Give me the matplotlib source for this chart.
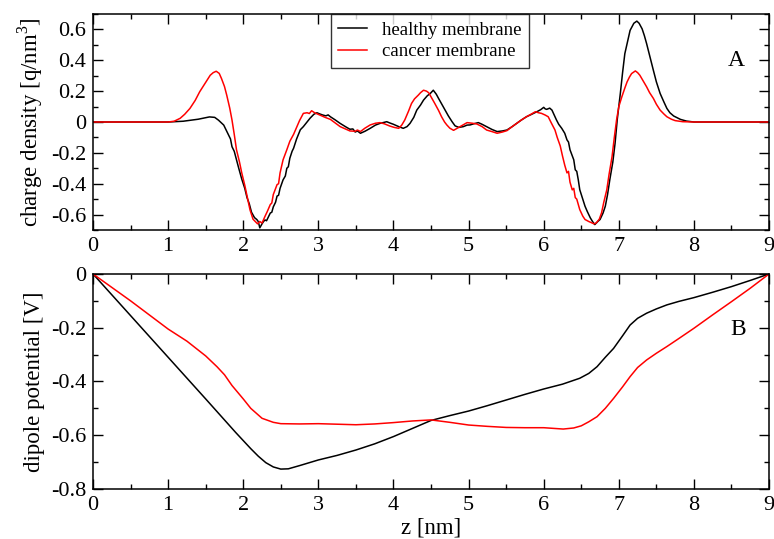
import matplotlib
matplotlib.use("Agg")
import matplotlib.pyplot as plt
from matplotlib.ticker import MultipleLocator, FuncFormatter

plt.rcParams['font.family'] = ['Liberation Serif', 'DejaVu Serif']
plt.rcParams['mathtext.fontset'] = 'custom'
plt.rcParams['mathtext.rm'] = 'Liberation Serif'
plt.rcParams['axes.unicode_minus'] = False

# charge density profiles across the bilayer, z in nm, rho in q/nm^3
z_rho_healthy = [0.0, 1.0, 1.2, 1.4, 1.55, 1.62, 1.67, 1.74, 1.80, 1.83, 1.85, 1.88, 1.91, 1.94, 1.98,
                 2.02, 2.05, 2.08, 2.11, 2.15, 2.18, 2.20, 2.22, 2.25, 2.27, 2.29, 2.31, 2.33,
                 2.36, 2.38, 2.40, 2.43, 2.45, 2.47, 2.49, 2.53, 2.56, 2.58, 2.60, 2.62, 2.65, 2.67, 2.71, 2.76,
                 2.80, 2.85, 2.89, 2.94, 2.98, 3.02, 3.06, 3.10, 3.13, 3.16, 3.22, 3.29, 3.36,
                 3.42, 3.46, 3.49, 3.52, 3.56, 3.62, 3.69, 3.76, 3.82, 3.86, 3.91, 3.95, 4.0, 4.07,
                 4.13, 4.18, 4.22, 4.27, 4.31, 4.36, 4.40, 4.45, 4.49, 4.53, 4.57, 4.60,
                 4.65, 4.69, 4.73, 4.78, 4.82, 4.87, 4.93, 4.98, 5.02, 5.08, 5.13, 5.18,
                 5.24, 5.31, 5.38, 5.45, 5.51, 5.58, 5.64, 5.70, 5.77, 5.84, 5.91, 5.96,
                 6.0, 6.02, 6.04, 6.08, 6.11, 6.14, 6.17, 6.20, 6.24, 6.28, 6.31, 6.33, 6.35,
                 6.38, 6.40, 6.42, 6.44, 6.46, 6.48, 6.52, 6.55, 6.58, 6.62, 6.65, 6.68, 6.70,
                 6.72, 6.75, 6.79, 6.82, 6.85, 6.88, 6.92, 6.95, 6.98, 7.02, 7.05, 7.08,
                 7.12, 7.15, 7.20, 7.24, 7.27, 7.31, 7.34, 7.37, 7.41, 7.46, 7.50, 7.55,
                 7.60, 7.64, 7.68, 7.73, 7.82, 7.90, 8.0, 9.0]
rho_healthy = [0.0, 0.0, 0.005, 0.018, 0.033, 0.03, 0.012, -0.02, -0.08, -0.11, -0.16, -0.19, -0.245, -0.30, -0.37,
               -0.43, -0.49, -0.53, -0.585, -0.62, -0.632, -0.645, -0.686, -0.66, -0.645, -0.635, -0.64, -0.62,
               -0.59, -0.585, -0.55, -0.52, -0.48, -0.475, -0.43, -0.375, -0.35, -0.30, -0.29, -0.235, -0.19, -0.17, -0.11, -0.05,
               -0.03, 0.0, 0.025, 0.05, 0.06, 0.052, 0.045, 0.04, 0.046, 0.034, 0.015, -0.009, -0.03,
               -0.047, -0.045, -0.065, -0.058, -0.073, -0.06, -0.041, -0.02, -0.009, -0.004, 0.002, -0.006, -0.015, -0.03,
               -0.041, -0.03, -0.009, 0.03, 0.077, 0.11, 0.142, 0.17, 0.185, 0.206, 0.18, 0.153,
               0.11, 0.077, 0.04, 0.002, -0.025, -0.035, -0.03, -0.02, -0.019, -0.01, -0.004, -0.015,
               -0.03, -0.048, -0.062, -0.058, -0.052, -0.03, -0.009, 0.012, 0.034, 0.05, 0.067, 0.08,
               0.095, 0.085, 0.082, 0.09, 0.077, 0.045, 0.013, -0.015, -0.041, -0.073, -0.116, -0.13, -0.18,
               -0.22, -0.245, -0.31, -0.32, -0.374, -0.439, -0.50, -0.546, -0.58, -0.621, -0.645, -0.665, -0.655,
               -0.645, -0.632, -0.59, -0.546, -0.47, -0.374, -0.26, -0.138, 0.02, 0.185, 0.32, 0.443,
               0.53, 0.594, 0.64, 0.654, 0.64, 0.604, 0.56, 0.508, 0.43, 0.335, 0.26, 0.185,
               0.13, 0.088, 0.06, 0.039, 0.017, 0.006, 0.0, 0.0]

z_rho_cancer = [0.0, 1.0, 1.08, 1.16, 1.22, 1.29, 1.36, 1.42, 1.49, 1.56, 1.60, 1.64, 1.68,
                1.71, 1.75, 1.78, 1.82, 1.85, 1.88, 1.91, 1.95, 1.98, 2.02, 2.05, 2.09,
                2.13, 2.16, 2.19, 2.22, 2.25, 2.29, 2.32, 2.36, 2.38, 2.40, 2.45, 2.47, 2.49, 2.53,
                2.58, 2.62, 2.67, 2.71, 2.75, 2.80, 2.85, 2.88, 2.91, 2.95, 3.02, 3.09,
                3.16, 3.22, 3.29, 3.36, 3.42, 3.49, 3.52, 3.56, 3.62, 3.69, 3.76, 3.82, 3.88,
                3.95, 4.01, 4.07, 4.11, 4.15, 4.20, 4.24, 4.28, 4.33, 4.36, 4.40, 4.44,
                4.47, 4.51, 4.55, 4.60, 4.64, 4.68, 4.71, 4.75, 4.80, 4.85, 4.89, 4.94,
                4.98, 5.05, 5.11, 5.18, 5.24, 5.31, 5.38, 5.45, 5.51, 5.58, 5.64, 5.70,
                5.77, 5.83, 5.89, 5.93, 5.97, 6.02, 6.06, 6.10, 6.15, 6.18, 6.22, 6.25,
                6.28, 6.31, 6.33, 6.35, 6.38, 6.40, 6.42, 6.44, 6.48, 6.52, 6.55, 6.60, 6.64, 6.67,
                6.70, 6.74, 6.77, 6.80, 6.84, 6.87, 6.91, 6.94, 6.97, 7.00, 7.04, 7.08,
                7.11, 7.14, 7.17, 7.22, 7.25, 7.28, 7.32, 7.37, 7.41, 7.46, 7.50, 7.55,
                7.60, 7.64, 7.70, 7.75, 7.85, 8.0, 9.0]
rho_cancer = [0.0, 0.0, 0.005, 0.024, 0.05, 0.088, 0.14, 0.196, 0.25, 0.303, 0.32, 0.329, 0.315,
              0.282, 0.23, 0.174, 0.09, 0.013, -0.08, -0.18, -0.26, -0.33, -0.41, -0.48, -0.57,
              -0.63, -0.645, -0.66, -0.645, -0.655, -0.611, -0.58, -0.535, -0.525, -0.47, -0.406, -0.40, -0.33, -0.245,
              -0.18, -0.125, -0.08, -0.035, 0.01, 0.056, 0.06, 0.055, 0.073, 0.06, 0.045, 0.03,
              0.017, -0.005, -0.03, -0.045, -0.058, -0.06, -0.052, -0.062, -0.04, -0.019, -0.008, -0.004, -0.012,
              -0.026, -0.035, -0.041, -0.02, 0.013, 0.07, 0.12, 0.15, 0.174, 0.19, 0.206, 0.2,
              0.189, 0.155, 0.12, 0.075, 0.034, 0.0, -0.019, -0.04, -0.054, -0.04, -0.028, -0.015,
              -0.004, -0.008, -0.013, -0.03, -0.052, -0.062, -0.073, -0.065, -0.056, -0.03, -0.009, 0.012,
              0.034, 0.05, 0.067, 0.06, 0.056, 0.045, 0.034, -0.005, -0.052, -0.1, -0.155, -0.22,
              -0.28, -0.33, -0.32, -0.39, -0.44, -0.43, -0.49, -0.5, -0.568, -0.61, -0.632, -0.645, -0.654, -0.66,
              -0.654, -0.63, -0.589, -0.52, -0.439, -0.34, -0.224, -0.1, 0.013, 0.1, 0.163, 0.22,
              0.26, 0.29, 0.314, 0.331, 0.32, 0.303, 0.27, 0.228, 0.19, 0.153, 0.115, 0.077,
              0.052, 0.034, 0.018, 0.009, 0.002, 0.0, 0.0]

# dipole potential, V
z_pot_healthy = [0.0, 0.5, 1.0, 1.5, 1.9, 2.0, 2.1, 2.2, 2.3, 2.4, 2.5, 2.6, 2.75, 3.0,
                 3.25, 3.5, 3.75, 4.0, 4.25, 4.5, 4.75, 5.0, 5.25, 5.5, 5.75, 6.0, 6.25,
                 6.48, 6.6, 6.71, 6.82, 6.93, 7.05, 7.15, 7.25, 7.37, 7.5, 7.64, 7.8,
                 8.0, 8.25, 8.5, 8.75, 9.0]
pot_healthy = [0.0, -0.155, -0.31, -0.465, -0.59, -0.62, -0.65, -0.678, -0.702, -0.718, -0.726, -0.725,
               -0.713, -0.692, -0.675, -0.655, -0.632, -0.605, -0.575, -0.545, -0.527, -0.51, -0.49,
               -0.469, -0.448, -0.428, -0.41, -0.388, -0.37, -0.345, -0.31, -0.277, -0.23, -0.19,
               -0.165, -0.146, -0.13, -0.115, -0.102, -0.088, -0.068, -0.047, -0.024, 0.0]

z_pot_cancer = [0.0, 0.5, 1.0, 1.25, 1.5, 1.65, 1.75, 1.85, 2.0, 2.1, 2.25, 2.4, 2.5, 2.75,
                3.0, 3.25, 3.5, 3.75, 4.0, 4.25, 4.5, 4.75, 5.0, 5.25, 5.5, 5.75, 6.0,
                6.26, 6.4, 6.5, 6.6, 6.71, 6.82, 6.93, 7.05, 7.15, 7.25, 7.37, 7.5, 7.64,
                7.8, 8.0, 8.25, 8.5, 8.75, 9.0]
pot_cancer = [0.0, -0.1, -0.205, -0.25, -0.305, -0.345, -0.375, -0.415, -0.465, -0.5, -0.537, -0.552,
              -0.557, -0.558, -0.557, -0.559, -0.561, -0.558, -0.553, -0.547, -0.543, -0.552, -0.562,
              -0.567, -0.571, -0.572, -0.572, -0.577, -0.573, -0.565, -0.55, -0.531, -0.5, -0.463,
              -0.42, -0.382, -0.348, -0.32, -0.295, -0.27, -0.24, -0.202, -0.152, -0.103, -0.053, 0.0]


def tick_fmt(v, pos):
    if abs(v) < 1e-9:
        return '0'
    if abs(v - round(v)) < 1e-9:
        return '%d' % round(v)
    return '%.1f' % v


def style_axis(ax):
    ax.xaxis.set_major_locator(MultipleLocator(1))
    ax.xaxis.set_minor_locator(MultipleLocator(0.5))
    ax.yaxis.set_major_locator(MultipleLocator(0.2))
    ax.yaxis.set_minor_locator(MultipleLocator(0.1))
    ax.xaxis.set_major_formatter(FuncFormatter(tick_fmt))
    ax.yaxis.set_major_formatter(FuncFormatter(tick_fmt))
    ax.tick_params(which='both', direction='in', top=True, right=True, width=1.0)
    ax.tick_params(which='major', length=7, labelsize=16, pad=5)
    ax.tick_params(which='minor', length=3.5)
    for s in ax.spines.values():
        s.set_linewidth(1.1)


fig = plt.figure(figsize=(7.74, 5.39), dpi=100)
ax1 = fig.add_axes([0.1202, 0.5733, 0.8734, 0.4007])
ax2 = fig.add_axes([0.1202, 0.0928, 0.8734, 0.3989])

ax1.plot(z_rho_healthy, rho_healthy, color='black', lw=1.1, label='healthy membrane')
ax1.plot(z_rho_cancer, rho_cancer, color='red', lw=1.1, label='cancer membrane')
ax1.set_xlim(0, 9)
ax1.set_ylim(-0.7, 0.7)
style_axis(ax1)
ax1.set_ylabel(r'charge density [q/nm$^\mathrm{3}$]', fontsize=16.5, labelpad=4)
ax1.text(0.951, 0.787, 'A', transform=ax1.transAxes, fontsize=17, ha='center', va='center')
leg = ax1.legend(loc='upper left', bbox_to_anchor=(0.352, 1.0), borderaxespad=0,
                 fontsize=13.5, frameon=True, fancybox=False, handlelength=1.5,
                 handletextpad=0.8, borderpad=0.4, labelspacing=0.25)
leg.get_frame().set_edgecolor('black')
leg.get_frame().set_linewidth(1.0)

ax2.plot(z_pot_healthy, pot_healthy, color='black', lw=1.1)
ax2.plot(z_pot_cancer, pot_cancer, color='red', lw=1.1)
ax2.set_xlim(0, 9)
ax2.set_ylim(-0.8, 0)
style_axis(ax2)
ax2.set_ylabel('dipole potential [V]', fontsize=16.5, labelpad=4)
ax2.set_xlabel('z [nm]', fontsize=16.5, labelpad=2)
ax2.text(0.954, 0.74, 'B', transform=ax2.transAxes, fontsize=17, ha='center', va='center')

fig.savefig('out.png', dpi=100)
